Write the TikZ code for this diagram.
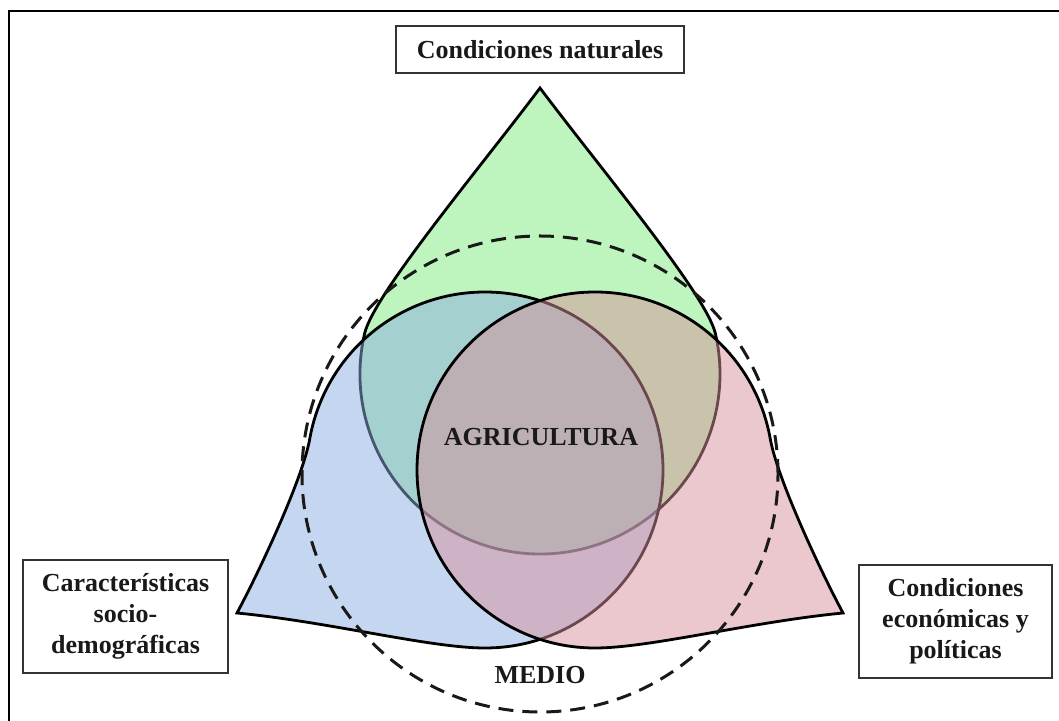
\documentclass[tikz,border=0pt]{standalone}
\usepackage{fontspec}
\setmainfont{Liberation Serif}

\definecolor{natgreen}{RGB}{125,235,125}
\definecolor{socblue}{RGB}{139,173,225}
\definecolor{ecopink}{RGB}{215,145,155}

\tikzset{
  region/.style={fill opacity=0.5, draw=black, line width=2.8pt, line join=miter},
  medio/.style={draw=black!90, line width=3pt, dash pattern=on 15pt off 9pt},
  labelbox/.style={draw=black!80, line width=1.4pt, fill=white, align=center, inner sep=0pt,
    font=\bfseries\fontsize{26}{31}\selectfont, text=black!90},
  plain/.style={font=\bfseries\fontsize{26}{31}\selectfont, text=black!90}
}

\begin{document}
\begin{tikzpicture}[x=1pt,y=1pt]

\useasboundingbox (0,0) rectangle (1059,720);
\clip (0,0) rectangle (1059,720);

%% Frame
\draw [line width=2.5pt] ( 1070, 709 ) -- ( 9, 709 ) -- ( 9, -10 );

%% Natural conditions (top drop)
\filldraw [region, fill=natgreen] ( 364.6, 386.5 ) arc [start angle=167, end angle=373, radius=180]
  .. controls ( 706, 426 ) and ( 600, 552 ) .. ( 540, 632 )
  .. controls ( 480, 552 ) and ( 374, 426 ) .. ( 364.6, 386.5 ) -- cycle;

%% Socio-demographic (left drop)
\filldraw [region, fill=socblue] ( 309.7, 280.9 ) .. controls ( 302.7, 241.5 ) and ( 260, 150 ) .. ( 237, 107 )
  .. controls ( 330, 98 ) and ( 430, 72 ) .. ( 485, 72 )
  arc [start angle=-90, end angle=170, radius=178] -- cycle;

%% Economic and political (right drop)
\filldraw [region, fill=ecopink] ( 770.3, 280.9 ) .. controls ( 777.3, 241.5 ) and ( 820, 150 ) .. ( 843, 107 )
  .. controls ( 750, 98 ) and ( 650, 72 ) .. ( 595, 72 )
  arc [start angle=-90, end angle=-350, radius=178] -- cycle;

%% Environment
\draw [medio] ( 540, 246 ) circle [radius=238];

%% Labels
\node [plain] (agri) at ( 541, 283 ) {AGRICULTURA};
\node [plain] (medio) at ( 540, 45 ) {MEDIO};

\node [labelbox, minimum width=288pt, minimum height=47pt] (natural) at ( 540, 670.5 ) {Condiciones naturales};
\node [labelbox, minimum width=205pt, minimum height=113pt] (social) at ( 125.5, 103.5 ) {Características\\socio-\\demográficas};
\node [labelbox, minimum width=193pt, minimum height=113pt] (economic) at ( 955.5, 98.5 ) {Condiciones\\económicas y\\políticas};

\end{tikzpicture}
\end{document}
